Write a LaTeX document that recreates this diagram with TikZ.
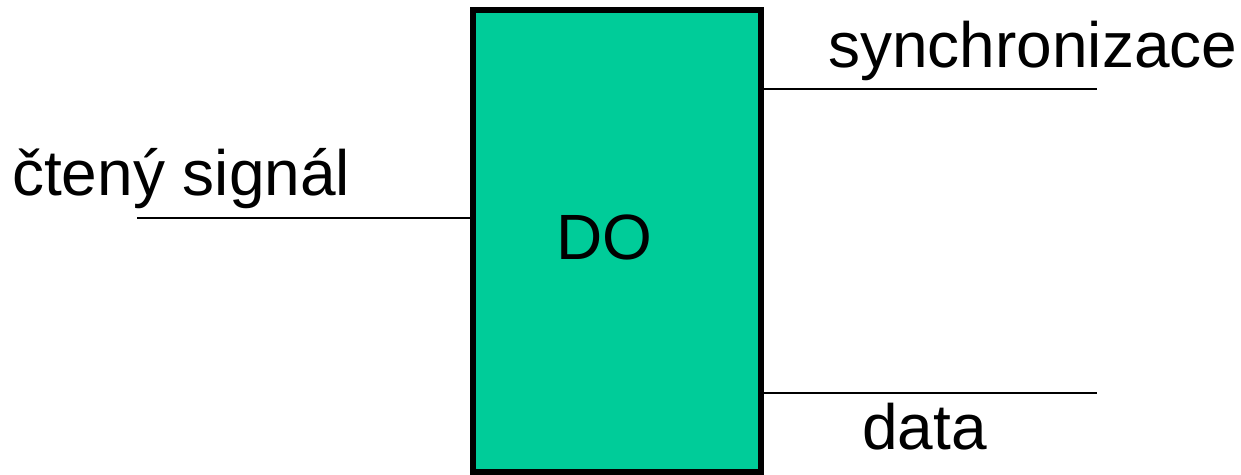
\documentclass[tikz,border=0pt]{standalone}
\usepackage{fontspec}
\setmainfont{Liberation Sans}
\usepackage{xcolor}
\definecolor{doGreen}{RGB}{0, 204, 153}

\begin{document}
\begin{tikzpicture}[x=1pt, y=-1pt, font=\fontsize{64}{76}\selectfont,
  wire/.style={line width=2pt},
  lbl/.style={inner sep=0pt, anchor=base west}]
\useasboundingbox (0,0) rectangle (1241,474);
% Decoder block
\node[rectangle, draw, line width=6pt, fill=doGreen, minimum width=288, minimum height=462] (do) at (617,241) {};
\node[inner sep=0pt, anchor=base] (doname) at (604,259) {DO};
% Signal ends
\coordinate (in) at (137,218);
\coordinate (sync) at (1097,89);
\coordinate (dat) at (1097,393);
\draw[wire] (in) -- (in -| do.west);
\draw[wire] (sync -| do.east) -- (sync);
\draw[wire] (dat -| do.east) -- (dat);
% Labels
\node[lbl] (inlbl) at (12,195) {čtený signál};
\node[lbl] (synclbl) at (828,67) {synchronizace};
\node[lbl] (datlbl) at (862,449) {data};
\end{tikzpicture}
\end{document}
